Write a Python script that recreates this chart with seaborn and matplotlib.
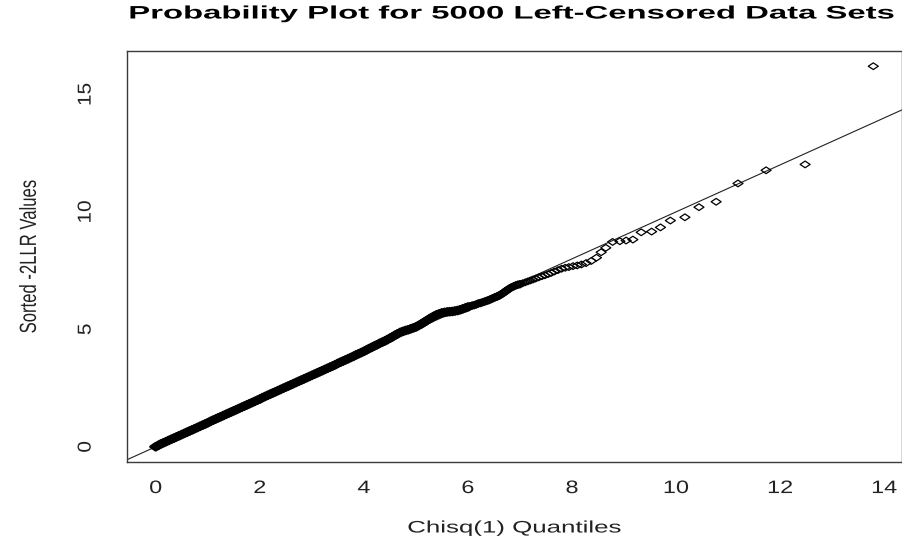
import numpy as np
import pandas as pd
import matplotlib
matplotlib.use("Agg")
import matplotlib.pyplot as plt
import seaborn as sns
from matplotlib.patheffects import AbstractPathEffect
from matplotlib.transforms import Affine2D
from matplotlib.path import Path
from matplotlib.markers import MarkerStyle

# ---------------- data ----------------
chisq_quantiles = [
    0.00, 0.05, 0.10, 0.15, 0.20, 0.25, 0.30, 0.35, 0.40, 0.45,
    0.50, 0.55, 0.60, 0.65, 0.70, 0.75, 0.80, 0.85, 0.90, 0.95,
    1.00, 1.05, 1.10, 1.15, 1.20, 1.25, 1.30, 1.35, 1.40, 1.45,
    1.50, 1.55, 1.60, 1.65, 1.70, 1.75, 1.80, 1.85, 1.90, 1.95,
    2.00, 2.05, 2.10, 2.15, 2.20, 2.25, 2.30, 2.35, 2.40, 2.45,
    2.50, 2.55, 2.60, 2.65, 2.70, 2.75, 2.80, 2.85, 2.90, 2.95,
    3.00, 3.05, 3.10, 3.15, 3.20, 3.25, 3.30, 3.35, 3.40, 3.45,
    3.50, 3.55, 3.60, 3.65, 3.70, 3.75, 3.80, 3.85, 3.90, 3.95,
    4.00, 4.05, 4.10, 4.15, 4.20, 4.25, 4.30, 4.35, 4.40, 4.45,
    4.50, 4.55, 4.60, 4.65, 4.70, 4.75, 4.80, 4.85, 4.90, 4.95,
    5.00, 5.05, 5.10, 5.15, 5.20, 5.25, 5.30, 5.35, 5.40, 5.45,
    5.50, 5.55, 5.60, 5.65, 5.70, 5.75, 5.80, 5.85, 5.90, 5.95,
    6.00, 6.04, 6.08, 6.12, 6.16, 6.20, 6.24, 6.28, 6.32, 6.36,
    6.40, 6.44, 6.48, 6.52, 6.56, 6.60, 6.64, 6.68, 6.72, 6.76,
    6.80, 6.84, 6.88, 6.92, 6.96, 7.00, 7.05, 7.10, 7.15, 7.20,
    7.25, 7.30, 7.36, 7.42, 7.48, 7.54, 7.60, 7.66, 7.73, 7.80,
    7.87, 7.94, 8.02, 8.10, 8.18, 8.27, 8.37, 8.47, 8.56, 8.65,
    8.78, 8.92, 9.04, 9.17, 9.33, 9.53, 9.70, 9.89, 10.17, 10.44,
    10.77, 11.19, 11.73, 12.48, 13.79,
]
sorted_llr = [
    0.00, 0.06, 0.12, 0.17, 0.22, 0.27, 0.32, 0.37, 0.42, 0.47,
    0.52, 0.57, 0.62, 0.67, 0.72, 0.77, 0.82, 0.87, 0.92, 0.97,
    1.02, 1.08, 1.13, 1.18, 1.23, 1.28, 1.33, 1.38, 1.43, 1.48,
    1.53, 1.58, 1.63, 1.68, 1.73, 1.78, 1.83, 1.88, 1.93, 1.98,
    2.03, 2.09, 2.14, 2.19, 2.24, 2.29, 2.34, 2.39, 2.44, 2.49,
    2.54, 2.59, 2.64, 2.69, 2.74, 2.79, 2.84, 2.89, 2.94, 2.99,
    3.04, 3.09, 3.14, 3.19, 3.24, 3.29, 3.34, 3.39, 3.44, 3.49,
    3.55, 3.60, 3.65, 3.70, 3.75, 3.80, 3.85, 3.91, 3.96, 4.01,
    4.06, 4.12, 4.18, 4.23, 4.29, 4.34, 4.40, 4.45, 4.50, 4.56,
    4.62, 4.68, 4.75, 4.81, 4.87, 4.91, 4.95, 4.98, 5.02, 5.06,
    5.10, 5.16, 5.22, 5.29, 5.36, 5.43, 5.50, 5.56, 5.62, 5.66,
    5.70, 5.72, 5.74, 5.75, 5.76, 5.78, 5.80, 5.83, 5.87, 5.91,
    5.95, 5.98, 6.01, 6.03, 6.06, 6.10, 6.12, 6.15, 6.18, 6.21,
    6.24, 6.28, 6.32, 6.36, 6.39, 6.43, 6.49, 6.55, 6.61, 6.68,
    6.74, 6.79, 6.83, 6.87, 6.90, 6.92, 6.96, 7.00, 7.04, 7.08,
    7.12, 7.16, 7.21, 7.26, 7.30, 7.35, 7.40, 7.46, 7.52, 7.58,
    7.62, 7.65, 7.69, 7.72, 7.76, 7.82, 7.91, 8.05, 8.28, 8.47,
    8.72, 8.75, 8.78, 8.82, 9.13, 9.16, 9.34, 9.63, 9.77, 10.20,
    10.43, 11.21, 11.77, 12.02, 16.20,
]
x_ticks = [0, 2, 4, 6, 8, 10, 12, 14]
y_ticks = [0, 5, 10, 15]
title_text = "Probability Plot for 5000 Left-Censored Data Sets"
x_label = "Chisq(1) Quantiles"
y_label = "Sorted -2LLR Values"

df = pd.DataFrame({"q": chisq_quantiles, "v": sorted_llr})


# ------------- text reshaping (the reference is horizontally stretched) -------------
class Reshape(AbstractPathEffect):
    def __init__(self, sx=1.0, sy=1.0, width=None):
        super().__init__()
        self.sx, self.sy, self.width = sx, sy, width

    def draw_path(self, renderer, gc, tpath, affine, rgbFace=None):
        ext = tpath.get_extents(affine)
        sx = self.sx
        if self.width is not None and ext.width > 0:
            sx = self.width / ext.width
        cx = 0.5 * (ext.x0 + ext.x1)
        cy = 0.5 * (ext.y0 + ext.y1)
        tr = affine + Affine2D().translate(-cx, -cy).scale(sx, self.sy).translate(cx, cy)
        renderer.draw_path(gc, tpath, tr, rgbFace)


sns.set_style("white")
plt.rcParams["font.family"] = ["Liberation Sans", "DejaVu Sans"]

W, H = 903, 543
fig = plt.figure(figsize=(W / 100, H / 100), dpi=100)
L, R, T, B = 127, 902, 51, 462
ax = fig.add_axes([L / W, (H - B) / H, (R - L) / W, (B - T) / H])

diamond = Path([(0, 1), (1.5, 0), (0, -1), (-1.5, 0), (0, 1)],
               [Path.MOVETO, Path.LINETO, Path.LINETO, Path.LINETO, Path.CLOSEPOLY])

# heavy overplotting of thousands of points makes the low part a solid band;
# emulate with thicker outlines where points are packed together
edge_w = np.where(df["q"] <= 6.0, 2.2, np.where(df["q"] <= 7.0, 1.4, 0.9))
sns.scatterplot(data=df, x="q", y="v", ax=ax, marker=MarkerStyle(diamond),
                s=52, facecolor="none", edgecolor="black", linewidth=edge_w,
                legend=False, zorder=3)
ax.axline((0, 0), slope=1, color="#222222", lw=0.8, zorder=2)

# R-style 4% axis extension
xmin, xmax = min(chisq_quantiles), max(chisq_quantiles)
ymin, ymax = min(sorted_llr), max(sorted_llr)
ax.set_xlim(xmin - 0.04 * (xmax - xmin), xmax + 0.04 * (xmax - xmin))
ax.set_ylim(ymin - 0.04 * (ymax - ymin), ymax + 0.04 * (ymax - ymin))

ax.set_xticks(x_ticks)
ax.set_xticklabels([str(t) for t in x_ticks], fontsize=13)
ax.set_yticks(y_ticks)
ax.set_yticklabels([str(t) for t in y_ticks], fontsize=15, rotation=90, va="center")
ax.tick_params(axis="x", direction="out", length=5, width=0.8, color="#333333",
               pad=8, labelcolor="#222222")
ax.tick_params(axis="y", direction="out", length=10.8, width=0.8, color="#333333",
               pad=12, labelcolor="#222222")
for lbl in ax.get_xticklabels():
    lbl.set_path_effects([Reshape(sx=1.3)])
for lbl in ax.get_yticklabels():
    lbl.set_path_effects([Reshape(sx=0.9)])

for sp in ax.spines.values():
    sp.set_visible(True)
    sp.set_color("#3a3a3a")
    sp.set_linewidth(1.0)

ax.set_xlabel(x_label, fontsize=12, color="#222222")
ax.xaxis.label.set_va("center")
ax.xaxis.set_label_coords(0.5, (B - 528) / (B - T))
ax.xaxis.label.set_path_effects([Reshape(width=212)])

ax.set_ylabel(y_label, fontsize=12, color="#222222")
ax.yaxis.label.set_va("center")
ax.yaxis.set_label_coords((29 - L) / (R - L), 0.5)
ax.yaxis.label.set_path_effects([Reshape(sx=1.4)])

fig.text(511.5 / W, 1 - 14 / H, title_text, ha="center", va="center",
         fontsize=13, fontweight="bold", color="black",
         path_effects=[Reshape(width=763)])

fig.savefig("out.png", dpi=100)
